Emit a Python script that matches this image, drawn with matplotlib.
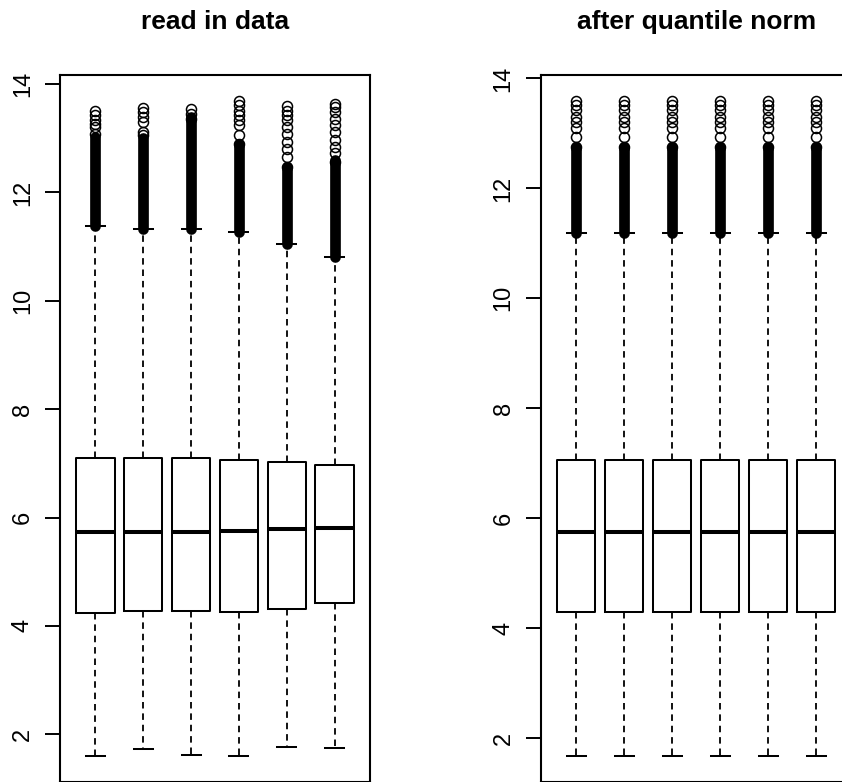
import numpy as np
import matplotlib.pyplot as plt

plt.rcParams['font.family'] = ['Liberation Sans', 'DejaVu Sans']

titles = ["read in data", "after quantile norm"]
yticks = [2, 4, 6, 8, 10, 12, 14]

# raw data (6 arrays)
raw_q1 = [4.245, 4.277, 4.271, 4.264, 4.319, 4.424]
raw_med = [5.734, 5.740, 5.740, 5.753, 5.784, 5.808]
raw_q3 = [7.105, 7.094, 7.094, 7.063, 7.020, 6.970]
raw_whislo = [1.596, 1.731, 1.626, 1.596, 1.773, 1.743]
raw_whishi = [11.386, 11.319, 11.319, 11.269, 11.048, 10.802]
# outliers: solid column up to dense_top, then single points
raw_dense_top = [13.03, 13.00, 13.40, 12.90, 12.47, 12.60]
raw_fliers = [
    [13.50, 13.42, 13.33, 13.27, 13.21, 13.08],
    [13.55, 13.48, 13.39, 13.30, 13.11, 13.05],
    [13.53, 13.45, 13.36],
    [13.69, 13.61, 13.51, 13.42, 13.33, 13.24, 13.05, 12.90],
    [13.59, 13.51, 13.42, 13.33, 13.21, 13.08, 12.93, 12.81, 12.65, 12.47],
    [13.64, 13.58, 13.48, 13.36, 13.24, 13.11, 12.96, 12.84, 12.72, 12.56],
]

# after quantile normalisation
norm_q1 = [4.296, 4.296, 4.296, 4.296, 4.296, 4.296]
norm_med = [5.756, 5.756, 5.756, 5.756, 5.756, 5.756]
norm_q3 = [7.060, 7.060, 7.060, 7.060, 7.060, 7.060]
norm_whislo = [1.680, 1.680, 1.680, 1.680, 1.680, 1.680]
norm_whishi = [11.193, 11.193, 11.193, 11.193, 11.193, 11.193]
norm_dense_top = [12.76, 12.76, 12.76, 12.76, 12.76, 12.76]
norm_fliers = [[13.59, 13.51, 13.42, 13.30, 13.21, 13.09, 12.93, 12.75]] * 6

W, H = 842, 782
fig = plt.figure(figsize=(W / 100, H / 100), dpi=100)
fig.patch.set_facecolor('white')

# axes placed in pixels (left, top, right, bottom)
boxes_px = [(60, 74.6, 370, 782.4), (540.7, 74.8, 851.7, 782.0)]


def draw_panel(ax, q1, med, q3, lo, hi, dense_top, fliers, title):
    stats = []
    for i in range(len(med)):
        stats.append(dict(q1=q1[i], med=med[i], q3=q3[i], whislo=lo[i],
                          whishi=hi[i], fliers=fliers[i]))
    pos = np.arange(1, len(med) + 1)
    ax.bxp(stats, positions=pos, widths=0.8, capwidths=0.4,
           boxprops=dict(color='black', linewidth=1.45),
           medianprops=dict(color='black', linewidth=2.9, solid_capstyle='butt'),
           whiskerprops=dict(color='black', linewidth=1.3, linestyle=(0, (3.6, 2.7))),
           capprops=dict(color='black', linewidth=1.45),
           flierprops=dict(marker='o', markerfacecolor='none', markeredgecolor='black',
                           markersize=7.2, markeredgewidth=1.1))
    # dense outlier band drawn as a solid rounded column
    for p, a, b in zip(pos, hi, dense_top):
        ax.plot([p, p], [a, b], color='black', lw=7.7, solid_capstyle='round', zorder=1.9)

    allv = list(lo) + [max(f) for f in fliers]
    vmin, vmax = min(allv), max(allv)
    pad = 0.04 * (vmax - vmin)
    ax.set_ylim(vmin - pad, vmax + pad)
    ax.set_xlim(0.5 - 0.24, len(med) + 0.5 + 0.24)
    ax.set_xticks([])
    ax.set_yticks(yticks)
    ax.set_yticklabels([str(t) for t in yticks], rotation=90, va='center')
    ax.tick_params(axis='y', length=10.8, width=1.4, labelsize=17, pad=8)
    for s in ax.spines.values():
        s.set_linewidth(1.5)
        s.set_color('black')
    ax.set_title(title, fontsize=19, fontweight='bold', pad=33)


for k, (l, t, r, b) in enumerate(boxes_px):
    ax = fig.add_axes([l / W, (H - b) / H, (r - l) / W, (b - t) / H])
    if k == 0:
        draw_panel(ax, raw_q1, raw_med, raw_q3, raw_whislo, raw_whishi,
                   raw_dense_top, raw_fliers, titles[0])
    else:
        draw_panel(ax, norm_q1, norm_med, norm_q3, norm_whislo, norm_whishi,
                   norm_dense_top, norm_fliers, titles[1])

fig.savefig('out.png', dpi=100)
